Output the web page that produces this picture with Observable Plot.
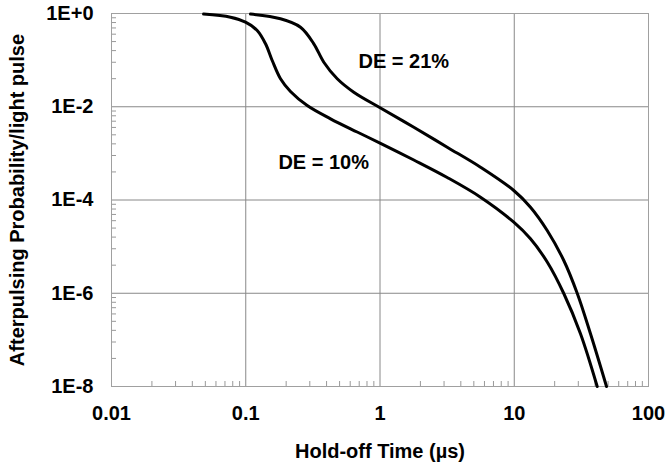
<!DOCTYPE html>
<html>
<head>
<meta charset="utf-8">
<script src="https://cdn.jsdelivr.net/npm/d3@7"></script>
<script src="https://cdn.jsdelivr.net/npm/@observablehq/plot@0.6"></script>
<style>
  html, body { margin: 0; padding: 0; background: #fff; }
  svg { display: block; }
</style>
</head>
<body>
<div id="chart"></div>
<script>
// Hold-off time (µs) and afterpulsing probability per light pulse
const de10x = [0.0485, 0.077, 0.0996, 0.1217, 0.1404, 0.1574, 0.1815, 0.2154, 0.2869, 0.428, 0.676, 1.009, 1.786, 3.167, 5.606, 9.92, 13.21, 17.6, 23.39, 31.15, 41.48];
const de10y = [0.97, 0.833, 0.651, 0.432, 0.224, 0.0982, 0.0398, 0.0212, 0.0106, 0.00551, 0.00287, 0.001645, 0.000721, 0.000304, 0.000115, 3.34e-5, 1.47e-5, 4.68e-6, 9.88e-7, 1.35e-7, 1e-8];
const de21x = [0.1085, 0.1815, 0.2557, 0.3212, 0.3815, 0.4801, 0.6378, 1.009, 1.786, 3.167, 5.606, 9.92, 13.21, 17.6, 23.39, 29.44, 36.98, 48.67];
const de21y = [0.97, 0.77, 0.508, 0.224, 0.0902, 0.0398, 0.0205, 0.0094, 0.00364, 0.001357, 0.000505, 0.00016, 7.01e-5, 2.22e-5, 5.04e-6, 1.0e-6, 1.35e-7, 1e-8];

const seriesNames = ["DE = 10%", "DE = 21%"];
const labelX = [0.175, 0.692];
const labelY = [6.37e-4, 0.0934];

const xTicks = [0.01, 0.1, 1, 10, 100];
const xTickLabels = ["0.01", "0.1", "1", "10", "100"];
const yTicks = [1, 1e-2, 1e-4, 1e-6, 1e-8];
const yTickLabels = ["1E+0", "1E-2", "1E-4", "1E-6", "1E-8"];
const xGrid = [0.1, 1, 10];
const yGrid = [1e-2, 1e-4, 1e-6];
const xTitle = "Hold-off Time (µs)";
const yTitle = "Afterpulsing Probability/light pulse";

// minor ticks: base-10 on x, base-100 on y (as in the original)
const xDecades = [0.01, 0.1, 1, 10];
const minorMults = [2, 3, 4, 5, 6, 7, 8, 9];
const minorX = xDecades.flatMap(d => minorMults.map(k => k * d));
const yDecades = [1e-8, 1e-6, 1e-4, 1e-2];
const minorY = yDecades.flatMap(d => minorMults.map(k => k * k * d));

const data = [
  ...de10x.map((x, i) => ({x, y: de10y[i], s: seriesNames[0]})),
  ...de21x.map((x, i) => ({x, y: de21y[i], s: seriesNames[1]}))
];
const labels = seriesNames.map((t, i) => ({t, x: labelX[i], y: labelY[i]}));
const xTickData = xTicks.map((v, i) => ({v, t: xTickLabels[i]}));
const yTickData = yTicks.map((v, i) => ({v, t: yTickLabels[i]}));

const font = "'Liberation Sans', Arial, Helvetica, sans-serif";
const gridColor = "#888";
const tickColor = "#999";

const chart = Plot.plot({
  width: 667,
  height: 467,
  marginLeft: 111,
  marginRight: 19,
  marginTop: 13,
  marginBottom: 81,
  style: {fontFamily: font, fontWeight: "bold", fontSize: "20px", color: "#000", background: "#fff"},
  x: {type: "log", domain: [0.01, 100]},
  y: {type: "log", domain: [1e-8, 1]},
  marks: [
    Plot.gridX(xGrid, {stroke: gridColor, strokeOpacity: 1}),
    Plot.gridY(yGrid, {stroke: gridColor, strokeOpacity: 1}),
    Plot.axisX(minorX, {anchor: "bottom", tickSize: -5, tickFormat: () => "", stroke: tickColor, label: null}),
    Plot.axisY(minorY, {anchor: "left", tickSize: -5, tickFormat: () => "", stroke: tickColor, label: null}),
    Plot.text(xTickData, {x: "v", text: "t", frameAnchor: "bottom", dy: 33, lineAnchor: "bottom", fontSize: 20, fontWeight: "bold", fill: "#000"}),
    Plot.text(yTickData, {y: "v", text: "t", frameAnchor: "left", dx: -18, textAnchor: "end", lineAnchor: "middle", fontSize: 20, fontWeight: "bold", fill: "#000"}),
    Plot.frame({stroke: "#a0a0a0"}),
    Plot.line(data, {x: "x", y: "y", z: "s", stroke: "#000", strokeWidth: 3, curve: "catmull-rom"}),
    Plot.text(labels, {x: "x", y: "y", text: "t", textAnchor: "start", fontSize: 20, fontWeight: "bold", fill: "#000"}),
    Plot.text([xTitle], {frameAnchor: "bottom", dy: 71, lineAnchor: "bottom", fontSize: 20, fontWeight: "bold", fill: "#000"}),
    Plot.text([yTitle], {frameAnchor: "left", dx: -88, rotate: -90, textAnchor: "middle", lineAnchor: "bottom", fontSize: 20, fontWeight: "bold", fill: "#000"})
  ]
});
document.getElementById("chart").appendChild(chart);
</script>
</body>
</html>
